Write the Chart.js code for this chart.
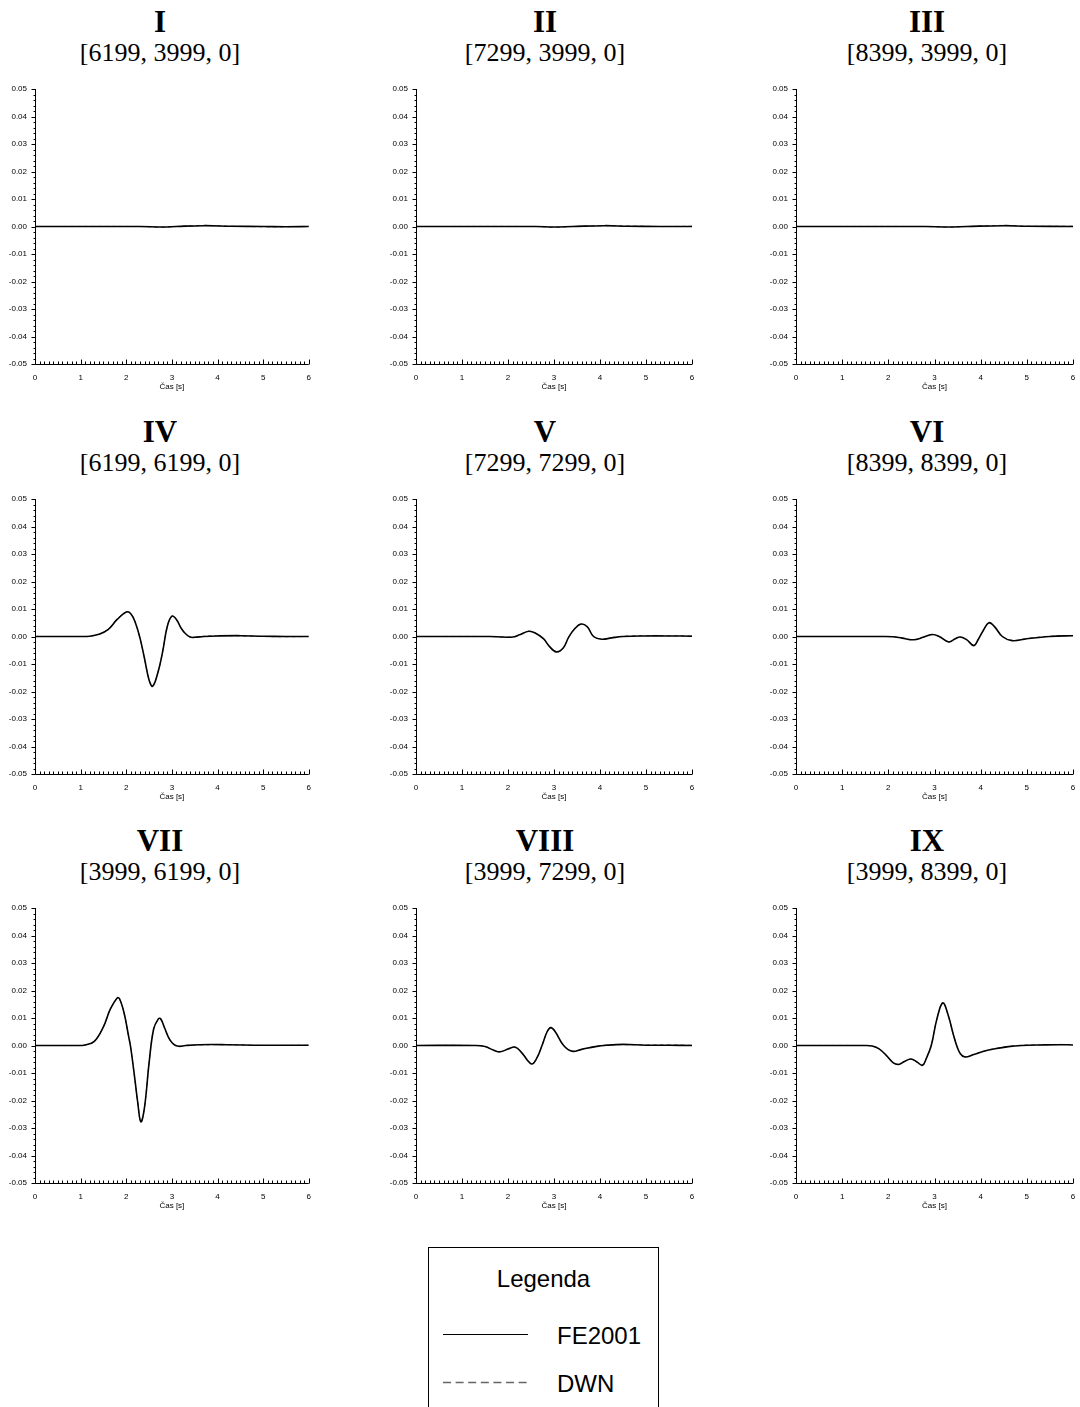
<!DOCTYPE html>
<html>
<head>
<meta charset="utf-8">
<script src="https://cdn.jsdelivr.net/npm/chart.js@4.4.0/dist/chart.umd.min.js"></script>
<style>
  body { margin: 0; width: 1080px; height: 1407px; overflow: hidden; background: #fff; position: relative; }
  .panel { position: absolute; }
  .ttl { position: absolute; width: 300px; text-align: center; color: #000; white-space: nowrap;
         font-family: "Liberation Serif", "Times New Roman", serif; }
  .ttl.main { font-size: 31px; line-height: 31px; font-weight: bold; }
  .ttl.sub { font-size: 26px; line-height: 26px; }
  #legend { position: absolute; left: 428px; top: 1247px; width: 229px; height: 220px; border: 1px solid #000;
            font-family: "Liberation Sans", Arial, sans-serif; color: #000; }
  #legend .head { position: absolute; left: 0; width: 100%; top: 16px; text-align: center; font-size: 24px; line-height: 30px; }
  #legend .item { position: absolute; left: 128px; font-size: 24px; line-height: 30px; }
  #legend svg { position: absolute; left: 14px; }
</style>
</head>
<body>

<div id="panels"></div>

<div id="legend">
  <div class="head">Legenda</div>
  <svg width="90" height="10" style="top:81px"><line x1="0" y1="5.5" x2="85" y2="5.5" stroke="#000" stroke-width="1"/></svg>
  <div class="item" style="top:73px">FE2001</div>
  <svg width="90" height="10" style="top:129px"><line x1="0" y1="5.5" x2="85" y2="5.5" stroke="#666" stroke-width="1.3" stroke-dasharray="8,4.6"/></svg>
  <div class="item" style="top:121px">DWN</div>
</div>

<script>
// panel labels
const romans = ['I', 'II', 'III', 'IV', 'V', 'VI', 'VII', 'VIII', 'IX'];
const coords = ['[6199, 3999, 0]', '[7299, 3999, 0]', '[8399, 3999, 0]',
                '[6199, 6199, 0]', '[7299, 7299, 0]', '[8399, 8399, 0]',
                '[3999, 6199, 0]', '[3999, 7299, 0]', '[3999, 8399, 0]'];
const xTicks = [0, 1, 2, 3, 4, 5, 6];
const yTicks = [-0.05, -0.04, -0.03, -0.02, -0.01, 0, 0.01, 0.02, 0.03, 0.04, 0.05];

// time [s] and values per panel (FE2001 / DWN)
const t1 = [0, 2.3, 2.8, 3.1, 3.7, 4.3, 5.0, 5.5, 6.0];
const fe1 = [0, 0, -0.0002, 0, 0.0003, 0.0001, 0, -0.0001, 0];
const dwn1 = [0, 0, -0.0003, 0, 0.0004, 0.0001, -0.0001, -0.0001, 0.0001];

const t2 = [0, 2.6, 3.0, 3.4, 4.1, 4.6, 5.3, 6.0];
const fe2 = [0, 0, -0.0002, 0, 0.0003, 0.0001, 0, 0];
const dwn2 = [0, 0, -0.0003, 0, 0.0003, 0.0002, 0, 0.0001];

const t3 = [0, 2.8, 3.3, 3.7, 4.5, 5.0, 6.0];
const fe3 = [0, 0, -0.0002, 0, 0.0003, 0.0001, 0];
const dwn3 = [0, 0, -0.0002, 0, 0.0004, 0.0001, 0.0001];

const t4 = [0, 1.0, 1.2, 1.4, 1.6, 1.8, 2.0, 2.1, 2.2, 2.3, 2.4, 2.5, 2.58, 2.7, 2.8, 2.9, 3.0, 3.1, 3.2, 3.3, 3.4, 3.5, 3.7, 4.0, 4.5, 5.0, 5.5, 6.0];
const fe4 = [0, 0, 0.0001, 0.0008, 0.0025, 0.0062, 0.0089, 0.0083, 0.0050, -0.0005, -0.0080, -0.0158, -0.0181, -0.0127, -0.0053, 0.0037, 0.0074, 0.0062, 0.0031, 0.0010, -0.0002, -0.0003, 0.0000, 0.0002, 0.0003, 0.0001, 0.0000, 0.0000];
const dwn4 = [0, 0, 0.0001, 0.0008, 0.0026, 0.0063, 0.0089, 0.0083, 0.0049, -0.0006, -0.0081, -0.0158, -0.0180, -0.0126, -0.0052, 0.0038, 0.0074, 0.0061, 0.0030, 0.0009, -0.0002, -0.0003, 0.0001, 0.0003, 0.0002, 0.0000, -0.0001, 0.0000];

const t5 = [0, 1.6, 1.9, 2.1, 2.25, 2.45, 2.6, 2.77, 2.9, 3.05, 3.2, 3.32, 3.45, 3.58, 3.72, 3.86, 4.04, 4.25, 4.5, 5.0, 5.5, 6.0];
const fe5 = [0, 0, -0.0002, -0.0002, 0.0006, 0.0019, 0.0012, -0.0008, -0.0036, -0.0056, -0.0042, -0.0002, 0.0028, 0.0045, 0.0036, 0.0000, -0.0010, -0.0005, 0.0000, 0.0002, 0.0002, 0.0001];
const dwn5 = [0, 0, -0.0002, -0.0001, 0.0006, 0.0019, 0.0012, -0.0008, -0.0036, -0.0055, -0.0042, -0.0002, 0.0028, 0.0045, 0.0036, 0.0001, -0.0009, -0.0004, 0.0001, 0.0003, 0.0003, 0.0002];

const t6 = [0, 1.9, 2.1, 2.3, 2.55, 2.75, 2.95, 3.1, 3.31, 3.45, 3.56, 3.7, 3.85, 3.95, 4.05, 4.18, 4.3, 4.47, 4.68, 5.0, 5.5, 6.0];
const fe6 = [0, 0, -0.0001, -0.0006, -0.0012, -0.0003, 0.0007, 0.0000, -0.0020, -0.0008, -0.0002, -0.0012, -0.0033, -0.0010, 0.0020, 0.0050, 0.0036, 0.0000, -0.0015, -0.0008, 0.0000, 0.0003];
const dwn6 = [0, 0, -0.0001, -0.0006, -0.0011, -0.0003, 0.0007, 0.0000, -0.0019, -0.0008, -0.0002, -0.0012, -0.0032, -0.0010, 0.0020, 0.0049, 0.0035, 0.0000, -0.0014, -0.0007, 0.0001, 0.0004];

const t7 = [0, 0.9, 1.1, 1.3, 1.5, 1.65, 1.8, 1.85, 1.95, 2.05, 2.1, 2.2, 2.25, 2.32, 2.4, 2.5, 2.6, 2.7, 2.75, 2.85, 2.95, 3.05, 3.15, 3.3, 3.6, 4.2, 5.0, 6.0];
const fe7 = [0, 0, 0.0002, 0.0015, 0.0068, 0.0132, 0.0173, 0.0171, 0.0120, 0.0035, -0.0010, -0.0138, -0.0205, -0.0278, -0.0225, -0.0064, 0.0060, 0.0096, 0.0098, 0.0060, 0.0022, 0.0003, -0.0003, 0.0000, 0.0003, 0.0003, 0.0001, 0.0001];
const dwn7 = [0, 0, 0.0002, 0.0015, 0.0069, 0.0133, 0.0172, 0.0170, 0.0119, 0.0034, -0.0011, -0.0139, -0.0205, -0.0276, -0.0224, -0.0063, 0.0060, 0.0095, 0.0097, 0.0059, 0.0021, 0.0002, -0.0003, 0.0000, 0.0002, 0.0003, 0.0000, 0.0001];

const t8 = [0, 1.3, 1.5, 1.7, 1.83, 2.0, 2.16, 2.3, 2.51, 2.62, 2.74, 2.85, 2.93, 3.02, 3.21, 3.39, 3.6, 3.9, 4.15, 4.5, 5.0, 5.5, 6.0];
const fe8 = [0, 0, -0.0004, -0.0018, -0.0023, -0.0013, -0.0006, -0.0027, -0.0067, -0.0048, 0.0000, 0.0050, 0.0065, 0.0052, 0.0000, -0.0021, -0.0014, -0.0004, 0.0001, 0.0004, 0.0001, 0.0001, 0.0000];
const dwn8 = [0, 0, -0.0004, -0.0017, -0.0022, -0.0013, -0.0006, -0.0026, -0.0066, -0.0047, 0.0000, 0.0050, 0.0064, 0.0051, 0.0000, -0.0020, -0.0014, -0.0003, 0.0002, 0.0003, 0.0002, 0.0002, 0.0001];

const t9 = [0, 1.5, 1.65, 1.8, 1.95, 2.1, 2.22, 2.35, 2.49, 2.62, 2.74, 2.82, 2.93, 3.05, 3.18, 3.3, 3.4, 3.48, 3.56, 3.66, 3.85, 4.05, 4.31, 4.6, 4.89, 5.3, 5.7, 6.0];
const fe9 = [0, 0, -0.0002, -0.0012, -0.0035, -0.0062, -0.0069, -0.0058, -0.0049, -0.0060, -0.0072, -0.0048, 0.0000, 0.0095, 0.0155, 0.0108, 0.0045, 0.0000, -0.0030, -0.0042, -0.0033, -0.0022, -0.0012, -0.0004, 0.0000, 0.0002, 0.0003, 0.0002];
const dwn9 = [0, 0, -0.0002, -0.0012, -0.0034, -0.0061, -0.0068, -0.0058, -0.0049, -0.0060, -0.0071, -0.0047, 0.0001, 0.0095, 0.0154, 0.0107, 0.0044, 0.0000, -0.0030, -0.0041, -0.0032, -0.0021, -0.0011, -0.0003, 0.0001, 0.0002, 0.0004, 0.0003];

const times = [t1, t2, t3, t4, t5, t6, t7, t8, t9];
const feSeries = [fe1, fe2, fe3, fe4, fe5, fe6, fe7, fe8, fe9];
const dwnSeries = [dwn1, dwn2, dwn3, dwn4, dwn5, dwn6, dwn7, dwn8, dwn9];

// column / row geometry
const cols = [
    { left: 0, yW: 35, padR: 10, titleX: 160 },
    { left: 385, yW: 31, padR: 13, titleX: 545 },
    { left: 768, yW: 28, padR: 15, titleX: 927 }
];
const rowTops = [0, 410, 819];

// axis lines plus inward x ticks and outward y ticks (minor + major)
const axisFrame = {
    id: 'axisFrame',
    afterDraw(chart) {
        const { ctx, scales: { x, y } } = chart;
        const left = Math.round(x.left) + 0.5;
        const bottom = Math.round(y.bottom) + 0.5;
        ctx.save();
        ctx.strokeStyle = '#000';
        ctx.lineWidth = 1;
        ctx.beginPath();
        ctx.moveTo(left, y.top);
        ctx.lineTo(left, bottom);
        ctx.lineTo(x.right, bottom);
        for (let i = 0; i <= 60; i++) {
            const px = Math.round(x.getPixelForValue(i / 10)) + 0.5;
            const len = i % 10 === 0 ? 5 : 3;
            ctx.moveTo(px, bottom);
            ctx.lineTo(px, bottom - len);
        }
        for (let j = 0; j <= 50; j++) {
            const py = Math.round(y.getPixelForValue(-0.05 + j * 0.002)) + 0.5;
            const len = j % 5 === 0 ? 4 : 2;
            ctx.moveTo(left, py);
            ctx.lineTo(left - len, py);
        }
        ctx.stroke();
        ctx.restore();
    }
};

const tickFont = { family: '"Liberation Sans", Arial, sans-serif', size: 8 };
const host = document.getElementById('panels');

function addText(cls, text, cx, top) {
    const d = document.createElement('div');
    d.className = 'ttl ' + cls;
    d.textContent = text;
    d.style.left = (cx - 150) + 'px';
    d.style.top = top + 'px';
    host.appendChild(d);
}

function makePanel(i) {
    const col = cols[i % 3];
    const top = rowTops[Math.floor(i / 3)];

    addText('main', romans[i], col.titleX, top + 6);
    addText('sub', coords[i], col.titleX, top + 40);

    const wrap = document.createElement('div');
    wrap.className = 'panel';
    wrap.style.left = col.left + 'px';
    wrap.style.top = top + 'px';
    const canvas = document.createElement('canvas');
    canvas.width = 320;
    canvas.height = 394;
    wrap.appendChild(canvas);
    host.appendChild(wrap);

    const t = times[i];
    new Chart(canvas, {
        type: 'line',
        data: {
            datasets: [
                {
                    label: 'FE2001',
                    data: t.map((tv, k) => ({ x: tv, y: feSeries[i][k] })),
                    borderColor: '#000',
                    borderWidth: 1.6,
                    pointRadius: 0,
                    tension: 0.4,
                    fill: false
                },
                {
                    label: 'DWN',
                    data: t.map((tv, k) => ({ x: tv, y: dwnSeries[i][k] })),
                    borderColor: '#666',
                    borderWidth: 1,
                    borderDash: [4, 3],
                    pointRadius: 0,
                    tension: 0.4,
                    fill: false
                }
            ]
        },
        options: {
            responsive: false,
            animation: false,
            devicePixelRatio: 1,
            layout: { padding: { left: 0, right: col.padR, top: 89, bottom: 0 } },
            plugins: {
                legend: { display: false },
                tooltip: { enabled: false }
            },
            scales: {
                x: {
                    type: 'linear',
                    min: 0,
                    max: 6,
                    grid: { display: false, drawTicks: false },
                    border: { display: false },
                    afterBuildTicks: s => { s.ticks = xTicks.map(v => ({ value: v })); },
                    ticks: { color: '#000', font: tickFont, padding: 9, maxRotation: 0, autoSkip: false },
                    title: { display: true, text: 'Čas [s]', color: '#000', font: tickFont, padding: { top: 0, bottom: 2 } },
                    afterFit: s => { s.height = 30; }
                },
                y: {
                    type: 'linear',
                    min: -0.05,
                    max: 0.05,
                    grid: { display: false, drawTicks: false },
                    border: { display: false },
                    afterBuildTicks: s => { s.ticks = yTicks.map(v => ({ value: v })); },
                    ticks: {
                        color: '#000',
                        font: tickFont,
                        padding: 8,
                        autoSkip: false,
                        callback: v => (Math.abs(v) < 1e-9 ? '0.00' : v.toFixed(2))
                    },
                    afterFit: s => { s.width = col.yW; }
                }
            }
        },
        plugins: [axisFrame]
    });
}

for (let i = 0; i < 9; i++) makePanel(i);
</script>
</body>
</html>
